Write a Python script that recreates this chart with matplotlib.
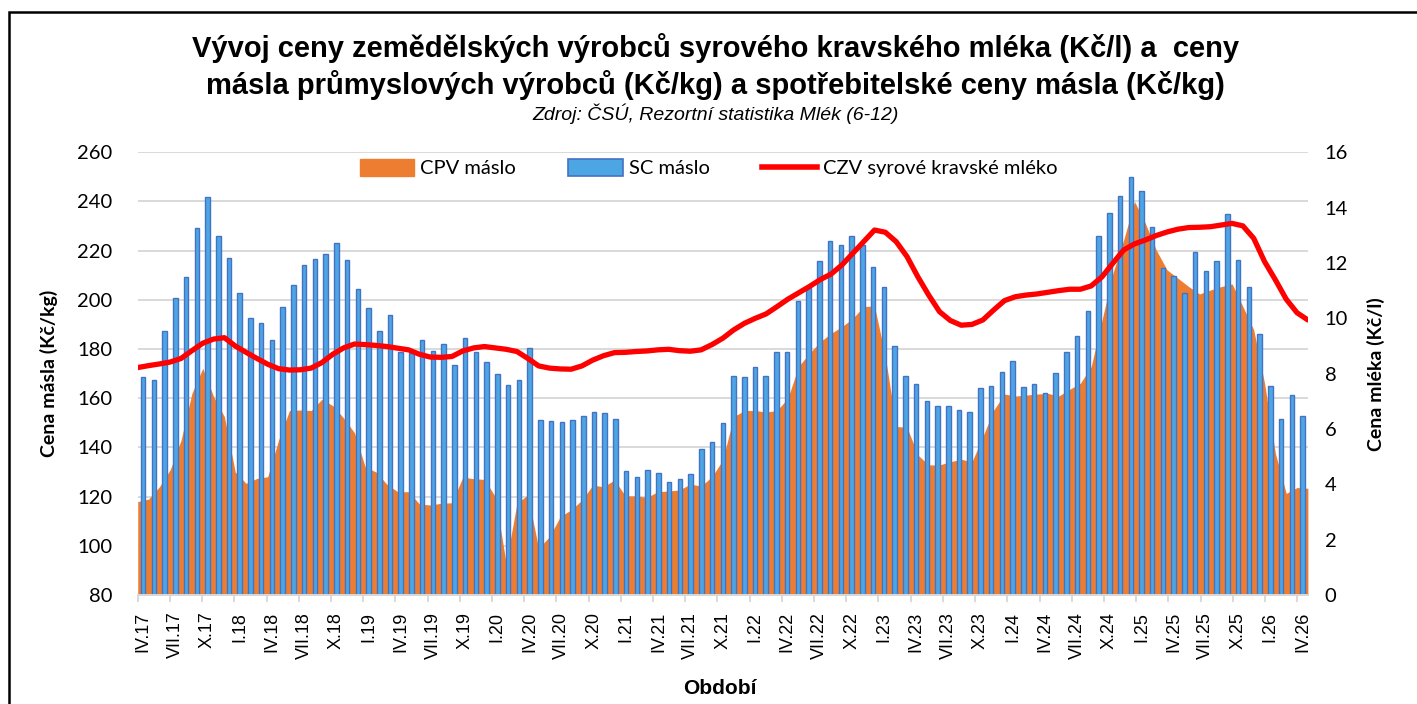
import numpy as np
import matplotlib
matplotlib.use('Agg')
import matplotlib.pyplot as plt
from matplotlib.patches import Patch, Rectangle
from matplotlib.lines import Line2D

# ceny másla (Kč/kg) a mléka (Kč/l), IV.17 - IV.26 po měsících
sc_maslo = [168.5, 167.6, 187.4, 200.6, 209.3, 229.4, 241.7, 226.0, 217.2,
            202.7, 192.5, 190.5, 183.7, 196.9, 206.1, 214.3, 216.8, 218.7, 223.3, 216.1, 204.6,
            196.7, 187.5, 194.0, 179.0, 178.3, 183.7, 179.4, 182.0, 173.5, 184.4, 178.7, 174.9,
            170.0, 165.5, 167.6, 180.6, 151.2, 150.8, 150.5, 151.2, 152.8, 154.4, 154.1, 151.7,
            130.6, 128.1, 131.0, 129.6, 126.0, 127.3, 129.3, 139.5, 142.1, 149.9, 169.1, 168.7,
            172.7, 169.2, 178.6, 178.6, 199.4, 205.0, 216.0, 224.1, 222.1, 226.1, 222.1, 213.5,
            205.1, 181.1, 168.9, 165.9, 159.0, 157.0, 157.0, 155.4, 154.3, 164.3, 165.0, 170.8,
            175.3, 164.5, 165.7, 162.0, 170.4, 178.6, 185.5, 195.6, 225.9, 235.5, 242.3, 250.1,
            244.4, 229.7, 213.1, 209.6, 202.9, 219.6, 211.9, 215.6, 235.1, 216.1, 205.4, 186.1,
            165.1, 151.4, 161.5, 152.8]

cpv_maslo = [118.0, 119.0, 124.0, 131.0, 143.0, 162.0, 172.2, 160.7, 152.5,
             130.0, 125.4, 127.4, 128.1, 143.0, 155.0, 155.2, 155.0, 159.6, 157.0, 152.0, 146.0,
             132.0, 130.0, 125.0, 122.0, 122.0, 117.0, 116.6, 117.3, 117.5, 127.9, 127.3, 127.0,
             120.0, 93.0, 117.3, 120.7, 99.0, 103.7, 111.9, 114.6, 118.6, 124.7, 124.0, 126.8,
             120.3, 120.3, 119.7, 122.0, 122.3, 122.7, 125.1, 124.3, 128.1, 134.9, 152.5, 155.0,
             155.0, 154.4, 155.0, 160.0, 173.0, 178.3, 183.0, 186.4, 189.1, 192.5, 197.3, 197.5,
             177.0, 148.5, 148.2, 136.9, 132.9, 132.9, 134.2, 135.2, 134.2, 144.4, 155.2, 161.7,
             160.9, 161.3, 161.7, 162.0, 160.9, 163.6, 166.1, 172.9, 191.8, 210.8, 224.4, 240.0,
             231.1, 220.3, 212.2, 208.8, 205.4, 202.4, 204.0, 205.4, 206.5, 197.3, 187.8, 166.1,
             137.6, 121.3, 123.7, 123.4]

czv_mleko = [8.22, 8.29, 8.35, 8.42, 8.55, 8.83, 9.10, 9.25, 9.30,
             9.00, 8.77, 8.55, 8.34, 8.18, 8.13, 8.14, 8.20, 8.40, 8.70, 8.93, 9.07,
             9.05, 9.02, 8.98, 8.92, 8.86, 8.70, 8.60, 8.59, 8.62, 8.82, 8.93, 8.98,
             8.93, 8.88, 8.80, 8.55, 8.28, 8.20, 8.17, 8.16, 8.28, 8.49, 8.65, 8.76,
             8.77, 8.80, 8.82, 8.86, 8.88, 8.83, 8.81, 8.86, 9.05, 9.28, 9.58, 9.82,
             10.00, 10.16, 10.42, 10.69, 10.92, 11.15, 11.40, 11.60, 11.93, 12.35, 12.77, 13.19,
             13.11, 12.77, 12.23, 11.50, 10.84, 10.24, 9.92, 9.75, 9.78, 9.94, 10.30, 10.64,
             10.78, 10.84, 10.88, 10.94, 11.00, 11.05, 11.05, 11.17, 11.50, 11.99, 12.47, 12.69,
             12.83, 12.99, 13.12, 13.22, 13.28, 13.29, 13.31, 13.37, 13.43, 13.34, 12.89, 12.05,
             11.39, 10.69, 10.20, 9.94]

# popisky osy x (každý 3. měsíc)
x_labels = ['IV.17', 'VII.17', 'X.17', 'I.18', 'IV.18', 'VII.18', 'X.18', 'I.19', 'IV.19',
            'VII.19', 'X.19', 'I.20', 'IV.20', 'VII.20', 'X.20', 'I.21', 'IV.21', 'VII.21',
            'X.21', 'I.22', 'IV.22', 'VII.22', 'X.22', 'I.23', 'IV.23', 'VII.23', 'X.23',
            'I.24', 'IV.24', 'VII.24', 'X.24', 'I.25', 'IV.25', 'VII.25', 'X.25', 'I.26', 'IV.26']

ORANGE = '#ED7D31'
BLUE_FILL = '#4DA6E4'
BLUE_EDGE = '#4472C4'
RED = '#FF0000'
GRID = '#D9D9D9'
TICK_FONT = 'Lato'
TITLE_FONT = 'Liberation Sans'

n = len(sc_maslo)
x = np.arange(n)
x_edge = np.linspace(-0.5, n - 0.5, n)  # plocha a čára jdou od okraje k okraji

fig = plt.figure(figsize=(14.17, 7.04), dpi=100)
ax = fig.add_axes([0.0972, 0.1548, 0.8258, 0.6289])
ax2 = ax.twinx()

ax.fill_between(x_edge, 0, cpv_maslo, color=ORANGE, lw=0, zorder=1)
ax.bar(x, sc_maslo, width=0.42, color=BLUE_FILL, edgecolor=BLUE_EDGE, linewidth=1.0, zorder=2)
ax2.plot(x_edge, czv_mleko, color=RED, lw=3.8, solid_capstyle='round', zorder=3)

ax.set_xlim(-0.5, n - 0.5)
ax.set_ylim(80, 260)
ax.set_yticks(np.arange(80, 261, 20))
ax2.set_ylim(0, 16)
ax2.set_yticks(np.arange(0, 17, 2))

ax.yaxis.grid(True, color=GRID, lw=1.4)
ax.set_axisbelow(True)
for a in (ax, ax2):
    for s in a.spines.values():
        s.set_visible(False)
ax.spines['bottom'].set_visible(True)
ax.spines['bottom'].set_color(GRID)
ax.spines['bottom'].set_linewidth(1.4)

# popisky na středech měsíců, čárky na hranicích
ax.set_xticks(x[::3])
ax.set_xticklabels(x_labels, rotation=90, fontsize=13, family=TITLE_FONT)
ax.set_xticks(np.arange(-0.5, n - 1, 3), minor=True)
ax.tick_params(axis='x', which='major', length=0, pad=12)
ax.tick_params(axis='x', which='minor', length=5, width=1.4, color=GRID)
ax.tick_params(axis='y', length=0, pad=18, labelsize=14.5)
ax2.tick_params(axis='y', length=0, pad=12, labelsize=14.5)
for lab in ax.get_yticklabels() + ax2.get_yticklabels():
    lab.set_family(TICK_FONT)

ax.set_ylabel('Cena másla (Kč/kg)', fontsize=14, fontweight='bold', family=TICK_FONT, labelpad=14)
ax2.set_ylabel('Cena mléka (Kč/l)', fontsize=14, fontweight='bold', family=TICK_FONT, labelpad=14)
fig.text(0.508, 0.022, 'Období', ha='center', va='center', fontsize=15, fontweight='bold', family=TITLE_FONT)

fig.text(0.505, 0.932, 'Vývoj ceny zemědělských výrobců syrového kravského mléka (Kč/l) a  ceny',
         ha='center', va='center', fontsize=21, fontweight='bold', family=TITLE_FONT)
fig.text(0.505, 0.879, 'másla průmyslových výrobců (Kč/kg) a spotřebitelské ceny másla (Kč/kg)',
         ha='center', va='center', fontsize=21, fontweight='bold', family=TITLE_FONT)
fig.text(0.505, 0.839, 'Zdroj: ČSÚ, Rezortní statistika Mlék (6-12)',
         ha='center', va='center', fontsize=14, style='italic', family=TITLE_FONT)

handles = [Patch(facecolor=ORANGE, edgecolor=ORANGE),
           Patch(facecolor=BLUE_FILL, edgecolor=BLUE_EDGE, linewidth=1.2),
           Line2D([0], [0], color=RED, lw=4)]
names = ['CPV máslo', 'SC máslo', 'CZV syrové kravské mléko']
ax2.legend(handles, names, loc='center', bbox_to_anchor=(0.5, 0.761), bbox_transform=fig.transFigure,
           ncol=3, frameon=False, handlelength=2.7, handleheight=0.9, handletextpad=0.3,
           columnspacing=2.6, prop={'family': TICK_FONT, 'size': 14.5})

# rámeček grafu
fig.patches.append(Rectangle((9 / 1417, -0.1), 1.2, 1.1 - 12 / 704, transform=fig.transFigure,
                             fill=False, edgecolor='black', lw=1.8, clip_on=False))

fig.savefig('out.png', dpi=100)
